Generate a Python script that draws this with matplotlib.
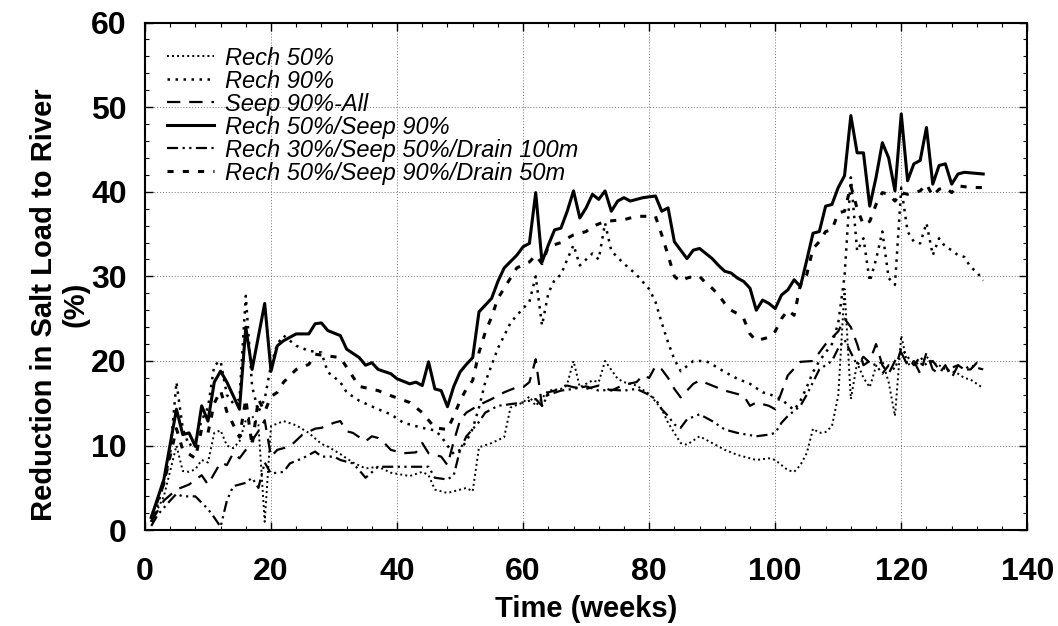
import matplotlib
matplotlib.use("Agg")
import matplotlib.pyplot as plt
from matplotlib.ticker import MultipleLocator

# ---- data (week, % reduction) ----
r50_wk = [1, 3, 5, 6, 7, 8, 9, 10, 11, 12, 13, 14, 15, 16, 17, 18, 19, 20, 22, 24,
          26, 28, 29, 31, 33, 35, 37, 39, 42, 44, 45, 46, 47, 48, 50, 51, 52, 53, 55, 57,
          58, 60, 61, 62, 64, 66, 67, 68, 69, 71, 72, 73, 75, 76, 78, 80, 82, 83, 85, 86,
          88, 90, 92, 94, 97, 99, 100, 102, 103, 104, 105, 106, 107, 108, 109, 110, 111, 112, 113, 114,
          115, 116, 117, 118, 119, 120, 121, 122, 123, 124, 125, 126, 127, 128, 129, 130, 131, 132, 133]
r50_val = [1, 4, 10, 7, 6.9, 7.2, 8.3, 8, 11.5, 11.8, 10, 9.7, 10.5, 13, 13.5, 12.5, 1, 12.3, 12.9, 12.4,
           11.5, 10.2, 9.9, 9, 8, 7.3, 7.5, 6.8, 6.4, 6.9, 6.5, 4.8, 4.6, 4.4, 4.8, 5, 4.6, 9.8, 10.3, 11,
           14.5, 15.1, 15.8, 14.7, 16.5, 16.7, 17.3, 20, 16.9, 17.7, 17.5, 20, 17.9, 17.5, 17.1, 16.1, 14.3, 12.7, 10.3, 10.1,
           11.1, 10.3, 9.5, 8.9, 8.3, 8.5, 8.3, 7.1, 6.9, 7.7, 9.1, 12, 11.5, 11.6, 12.3, 15.9, 28.5, 15.5, 19.8, 18,
           16.9, 19.4, 20, 17.5, 13.5, 23, 19.5, 20, 19.5, 20.5, 19.8, 19.5, 19, 18.8, 18.5, 18, 17.8, 17.3, 16.8]

r90_wk = [1, 2, 3, 4, 5, 6, 7, 8, 9, 10, 11, 12, 13, 14, 15, 16, 17, 18, 19, 20, 21, 22,
          24, 26, 28, 29, 31, 32, 34, 37, 39, 41, 44, 46, 47, 48, 49, 50, 51, 52, 53, 54,
          55, 56, 57, 58, 59, 60, 61, 62, 63, 64, 65, 66, 67, 68, 69, 70, 71, 72, 73, 74,
          76, 78, 80, 81, 82, 83, 84, 85, 87, 89, 90, 92, 94, 96, 98, 99, 101, 102, 103, 104,
          105, 106, 107, 108, 109, 110, 111, 112, 113, 114, 115, 116, 117, 118, 119, 120,
          121, 122, 123, 124, 125, 126, 127, 128, 129, 130, 131, 132, 133]
r90_val = [1, 3, 5.5, 9, 17.5, 12, 10, 10.5, 13, 14.5, 19.5, 20, 16, 15, 15.5, 27.7, 17, 14, 15.5, 19.5, 22, 23,
           21.8, 21.2, 21, 18.7, 17.5, 16.3, 15.3, 14.3, 13.7, 12.7, 12.1, 11.8, 11.1, 10, 9, 9.5, 10.5, 12, 14.5, 17.5,
           19.5, 21.5, 23, 24.5, 25.4, 26.2, 27, 30, 24.2, 28, 29.6, 30.2, 32, 33.7, 31.3, 32, 32.7, 32, 36.3, 33,
           31.5, 30.2, 28.5, 27, 24.5, 22.2, 20.2, 18.8, 20, 20, 19.6, 18.7, 17.9, 17.3, 16.3, 16.1, 15.5, 14.8, 14.2, 15.3,
           16.9, 18.7, 20, 21, 22, 24.5, 30, 41.7, 33, 34.5, 29.4, 32, 35.3, 29.8, 29, 40.5,
           35.3, 34.1, 33.9, 36.3, 32.5, 34.5, 33.5, 33.1, 32.5, 32.3, 31.1, 30.5, 29.5]

s90_wk = [1, 3, 5, 7, 9, 10, 12, 13, 14, 15, 16, 18, 19, 20, 21, 23, 25, 27, 28, 30,
          31, 32, 33, 35, 36, 37, 38, 39, 41, 43, 44, 45, 47, 48, 49, 50, 51, 53, 55, 57,
          59, 60, 61, 62, 63, 64, 65, 67, 68, 70, 72, 74, 76, 78, 79, 80, 81, 82, 83, 84,
          85, 86, 87, 88, 90, 92, 94, 95, 96, 97, 99, 100, 101, 102, 104, 106, 108, 110, 111, 112,
          113, 114, 115, 116, 117, 118, 119, 120, 121, 122, 123, 124, 125, 126, 127, 128, 129, 130, 131, 132, 133]
s90_val = [1, 3.5, 4.8, 5.4, 6.5, 5.4, 8, 7.7, 9.1, 8.5, 9.5, 11.7, 13, 8.7, 9.5, 9.9, 11.3, 12, 12.1, 12.7,
           12.9, 11.7, 11.5, 10.5, 11.1, 10.9, 10.3, 9.5, 9.1, 9.2, 10.3, 9.1, 8.7, 7.7, 10.5, 13, 13.9, 14.8, 15.5, 16.3,
           16.9, 16.9, 17.5, 20.2, 14.7, 16.3, 16.5, 17.1, 16.9, 16.7, 17.1, 16.5, 17.2, 17.5, 18.3, 18, 19.4, 19, 18, 16.7,
           15.7, 16.5, 17.3, 17.7, 17.1, 16.5, 16.1, 15.9, 14.7, 15.1, 14.7, 14.3, 16.3, 18.3, 19.9, 20, 22, 23.5, 25, 24,
           22, 19.5, 20, 22, 19.5, 18.5, 20, 21, 19.5, 20, 18.5, 21, 19, 18.5, 19.5, 18, 19.5, 19, 19, 19.8, 19.5]

r50s90_wk = [1, 3, 5, 6, 7, 8, 9, 10, 11, 12, 13, 15, 16, 17, 19, 20, 21, 22, 24, 26,
             27, 28, 29, 31, 32, 34, 35, 36, 37, 39, 40, 42, 43, 44, 45, 46, 47, 48, 49, 50,
             51, 52, 53, 55, 56, 57, 59, 60, 61, 62, 63, 64, 65, 66, 67, 68, 69, 70, 71, 72,
             73, 74, 75, 76, 77, 79, 81, 82, 83, 84, 86, 87, 88, 89, 90, 91, 92, 93, 94, 95,
             96, 97, 98, 99, 100, 101, 102, 103, 104, 105, 106, 107, 108, 109, 110, 111, 112, 113, 114, 115,
             116, 117, 118, 119, 120, 121, 122, 123, 124, 125, 126, 127, 128, 129, 130, 133]
r50s90_val = [1.5, 6, 14.3, 11.3, 11.5, 9.9, 14.7, 12.9, 17.5, 18.8, 17.5, 14.3, 24, 19, 26.8, 18.8, 21.8, 22.4, 23.2, 23.2,
              24.4, 24.5, 23.6, 23, 21.4, 20.4, 19.5, 19.8, 19, 18.5, 17.9, 17.3, 17.5, 17.1, 19.9, 16.7, 16.5, 14.6, 17, 18.7,
              19.6, 20.4, 25.8, 27.4, 29.4, 31, 32.5, 33.5, 33.9, 39.9, 31.7, 33.7, 35.5, 35.7, 37.7, 40.1, 36.9, 38.1, 39.7, 39.1,
              40.1, 37.7, 38.9, 39.3, 38.9, 39.3, 39.5, 37.7, 38.1, 34.1, 32.1, 33.1, 33.3, 32.7, 32.1, 31.3, 30.6, 30.4, 29.8, 29.4,
              28.6, 26, 27.2, 26.8, 26.2, 27.8, 28.4, 29.6, 28.8, 31.9, 35.1, 35.3, 38.3, 38.5, 40.5, 41.9, 49, 44.6, 44.6, 38.3,
              41.7, 45.8, 44, 40.1, 49.2, 41.3, 43.3, 43.7, 47.6, 40.9, 43.1, 43.3, 40.9, 42.1, 42.3, 42.1]

r30d100_wk = [1, 2, 4, 5, 6, 8, 10, 11, 12, 13, 14, 16, 17, 18, 19, 20, 22, 23, 25, 27,
              28, 30, 31, 33, 34, 35, 37, 40, 42, 45, 46, 48, 49, 50, 51, 53, 54, 56, 58, 60,
              62, 63, 64, 66, 68, 70, 72, 74, 76, 78, 80, 81, 82, 83, 84, 85, 86, 88, 90, 92,
              94, 97, 99, 100, 101, 102, 104, 105, 106, 107, 108, 109, 110, 111, 112, 113, 114, 115, 116, 117,
              118, 119, 120, 121, 122, 123, 124, 125, 126, 127, 128, 129, 130, 131, 132, 133]
r30d100_val = [0.5, 1.8, 3.5, 4.3, 4, 4, 2.5, 1.5, 0.4, 3.5, 5.2, 5.6, 6.2, 5, 8, 6.7, 6.9, 7.9, 8.5, 9.3,
               8.7, 8.7, 8.3, 7.9, 7.1, 6.2, 7.5, 7.5, 7.5, 7.5, 6.2, 6, 6.5, 9.5, 11.1, 12.8, 13.9, 14.7, 14.9, 15.1,
               15.5, 14.7, 16, 16.5, 16.7, 17, 16.5, 16.6, 16.5, 16.7, 16, 15.5, 14.3, 13.5, 12.5, 12.1, 13.1, 13.7, 12.9, 11.9,
               11.5, 11.1, 11.3, 11.5, 12.7, 13.5, 14.7, 16, 17.5, 19, 19.5, 20, 21.5, 22.5, 21, 19.5, 20.5, 19.8, 19.5, 18.5,
               19.5, 19, 21.5, 20.5, 19.5, 20.5, 19.5, 20, 19, 18.8, 19.2, 19.5, 19, 19.5, 19.2, 19]

r50d50_wk = [1, 3, 5, 6, 7, 8, 9, 10, 11, 12, 13, 14, 15, 16, 17, 18, 19, 20, 21, 22,
             24, 26, 27, 29, 31, 34, 37, 39, 42, 44, 46, 48, 49, 50, 51, 52, 53, 54, 55, 56,
             58, 59, 61, 62, 63, 64, 66, 67, 68, 70, 71, 73, 76, 78, 81, 82, 83, 84, 85, 86,
             87, 88, 89, 90, 91, 92, 93, 94, 95, 96, 97, 98, 99, 100, 101, 102, 103, 104, 105, 106,
             107, 108, 109, 110, 111, 112, 113, 114, 115, 116, 117, 118, 119, 120, 121, 122, 123, 124, 125, 126,
             127, 128, 129, 131, 133]
r50d50_val = [1.5, 5.5, 12, 9.5, 9, 8.5, 12, 11.5, 15, 16.5, 14, 12.5, 11, 15.5, 10, 15.5, 14, 15.8, 16.3, 17.5,
              19, 19.6, 20.8, 20.6, 20.4, 17, 16.5, 15.9, 15.1, 13.9, 12.1, 11.9, 13.5, 15.3, 16.7, 17.7, 21, 23.4, 25.2, 27.4,
              29.8, 31, 31.7, 32.5, 31.5, 33.5, 34, 34.5, 34.9, 35.3, 35.9, 36.5, 36.7, 37.1, 37.1, 34.9, 32.5, 30, 29.4, 29.8,
              30, 30, 29.2, 28.6, 27.8, 26.8, 26, 25.6, 25, 23.2, 22.4, 22.6, 22.8, 23.5, 25, 26, 25.4, 29, 30.2, 33.3,
              34.1, 35.3, 35.5, 37.5, 37.7, 40.7, 38, 36.1, 36.5, 38.5, 39.9, 39.7, 38.9, 39.9, 39.7, 39.9, 40.1, 40.9, 39.5, 40.3,
              40.5, 39.9, 40.7, 40.5, 40.5]

labels = ["Rech 50%", "Rech 90%", "Seep 90%-All", "Rech 50%/Seep 90%",
          "Rech 30%/Seep 50%/Drain 100m", "Rech 50%/Seep 90%/Drain 50m"]

# ---- plot ----
fig = plt.figure(figsize=(10.58, 6.26), dpi=100)
ax = fig.add_axes([0.137, 0.153, 0.834, 0.811])

ax.plot(r50_wk, r50_val, color="black", lw=1.4, ls=(0, (1, 1.6)), label=labels[0])
ax.plot(r90_wk, r90_val, color="black", lw=1.8, ls=(0, (1, 2.2)), label=labels[1])
ax.plot(s90_wk, s90_val, color="black", lw=1.6, ls=(0, (6, 4)), label=labels[2])
ax.plot(r50s90_wk, r50s90_val, color="black", lw=2.2, ls="-", label=labels[3])
ax.plot(r30d100_wk, r30d100_val, color="black", lw=1.6, ls=(0, (5, 2, 1, 2, 1, 2)), label=labels[4])
ax.plot(r50d50_wk, r50d50_val, color="black", lw=2.2, ls=(0, (2, 3)), label=labels[5])

ax.set_xlim(0, 140)
ax.set_ylim(0, 60)
ax.xaxis.set_major_locator(MultipleLocator(20))
ax.xaxis.set_minor_locator(MultipleLocator(4))
ax.yaxis.set_major_locator(MultipleLocator(10))
ax.yaxis.set_minor_locator(MultipleLocator(2))
ax.tick_params(which="both", direction="in", top=True, right=True)
ax.tick_params(which="major", length=6, width=1)
ax.tick_params(which="minor", length=3, width=0.8)
ax.tick_params(axis="x", pad=19)
ax.tick_params(axis="y", pad=13)

for lab in ax.get_xticklabels():
    lab.set_family(["Liberation Sans Narrow", "Liberation Sans", "DejaVu Sans"])
    lab.set_fontweight("bold")
    lab.set_fontsize(23)
for lab in ax.get_yticklabels():
    lab.set_family(["Liberation Sans", "DejaVu Sans"])
    lab.set_fontweight("bold")
    lab.set_fontsize(23)

for sp in ax.spines.values():
    sp.set_linewidth(1.5)

ax.grid(True, which="major", color="0.45", lw=0.7, ls=(0, (1, 2)))

ax.set_xlabel("Time (weeks)", fontsize=21, fontweight="bold",
              family=["Liberation Sans Narrow", "Liberation Sans", "DejaVu Sans"])
ax.xaxis.set_label_coords(0.5, -0.128)
ax.set_ylabel("Reduction in Salt Load to River\n(%)", fontsize=21, fontweight="bold",
              family=["Liberation Sans", "DejaVu Sans"], linespacing=1.15)
ax.yaxis.set_label_coords(-0.063, 0.445)

ax.legend(loc="upper left", bbox_to_anchor=(0.006, 0.985), frameon=False,
          prop={"family": ["Liberation Sans", "DejaVu Sans"], "style": "italic", "size": 17},
          handlelength=2.0, handletextpad=0.45, labelspacing=0.0, borderaxespad=0.3)

fig.savefig("out.png", dpi=100)
